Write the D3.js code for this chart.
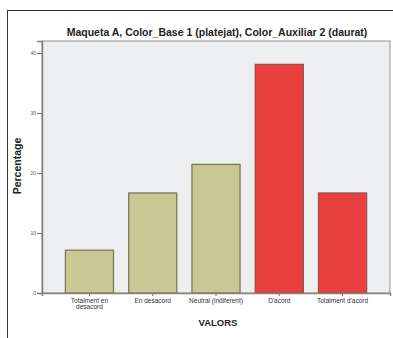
<!DOCTYPE html>
<html><head><meta charset="utf-8">
<script src="https://cdn.jsdelivr.net/npm/d3@7"></script>
<style>body{margin:0;background:#fff;}svg{display:block;font-family:"Liberation Sans",Arial,sans-serif;}</style>
</head><body>
<svg id="c" width="393" height="338"></svg>
<script>
const categories = ["Totalment en desacord", "En desacord", "Neutral (indiferent)", "D'acord", "Totalment d'acord"];
const categoryLines = [["Totalment en", "desacord"], ["En desacord"], ["Neutral (indiferent)"], ["D'acord"], ["Totalment d'acord"]];
const percentages = [7.14, 16.67, 21.43, 38.10, 16.67];
const barGroup = ["base", "base", "base", "aux", "aux"];
const yTicks = [0, 10, 20, 30, 40];
const title = "Maqueta A, Color_Base 1 (platejat), Color_Auxiliar 2 (daurat)";
const yTitle = "Percentage";
const xTitle = "VALORS";

const svg = d3.select("#c");
const m = {l: 42, t: 41, r: 390, b: 293};

// outer frame
svg.append("rect").attr("x", 7.5).attr("y", 10.5).attr("width", 400).attr("height", 340)
  .attr("fill", "none").attr("stroke", "#333").attr("stroke-width", 1);

// plot background
svg.append("rect").attr("x", m.l).attr("y", m.t).attr("width", m.r - m.l).attr("height", m.b - m.t)
  .attr("fill", "#eceef0").attr("stroke", "#a8a4a0").attr("stroke-width", 1.2);

const x = d3.scaleBand().domain(categories).range([m.l, m.r]).paddingInner(0.24).paddingOuter(0.37);
const y = d3.scaleLinear().domain([0, 42]).range([m.b, m.t]);
const color = d3.scaleOrdinal().domain(["base", "aux"]).range(["#cbc792", "#e8403f"]);
const strokeC = d3.scaleOrdinal().domain(["base", "aux"]).range(["#7d7a5c", "#a05048"]);

svg.append("g").selectAll("rect").data(categories).join("rect")
  .attr("x", d => x(d)).attr("width", x.bandwidth())
  .attr("y", (d, i) => y(percentages[i])).attr("height", (d, i) => y(0) - y(percentages[i]))
  .attr("fill", (d, i) => color(barGroup[i]))
  .attr("stroke", (d, i) => strokeC(barGroup[i])).attr("stroke-width", 1.3);

// axes
const yAxis = svg.append("g").attr("transform", `translate(${m.l},0)`)
  .call(d3.axisLeft(y).tickValues(yTicks).tickSize(5).tickPadding(1));
yAxis.select(".domain").attr("stroke", "#8a7f78").attr("stroke-width", 1.5);
yAxis.selectAll(".tick line").attr("stroke", "#7a706a");
yAxis.selectAll(".tick text").attr("font-size", 5).attr("fill", "#555");

const xAxis = svg.append("g").attr("transform", `translate(0,${m.b})`)
  .call(d3.axisBottom(x).tickSize(3).tickFormat(""));
xAxis.select(".domain").attr("stroke", "#8a7f78").attr("stroke-width", 1.5);
xAxis.selectAll(".tick line").attr("stroke", "#7a706a");

svg.append("g").selectAll("text").data(categories).join("text")
  .attr("x", d => x(d) + x.bandwidth() / 2).attr("y", 303)
  .attr("text-anchor", "middle").attr("font-size", 6.5).attr("fill", "#333")
  .each(function(d, i) {
    const t = d3.select(this);
    categoryLines[i].forEach((ln, k) => {
      t.append("tspan").attr("x", x(d) + x.bandwidth() / 2).attr("dy", k === 0 ? 0 : 5.5).text(ln);
    });
  });

svg.append("text").attr("x", 217).attr("y", 36).attr("text-anchor", "middle")
  .attr("font-size", 10.5).attr("font-weight", "bold").attr("fill", "#222").text(title);

svg.append("text").attr("transform", "translate(21,166) rotate(-90)").attr("text-anchor", "middle")
  .attr("font-size", 10.5).attr("font-weight", "bold").attr("fill", "#222").text(yTitle);

svg.append("text").attr("x", 218).attr("y", 326).attr("text-anchor", "middle")
  .attr("font-size", 9.5).attr("font-weight", "bold").attr("fill", "#222").text(xTitle);
</script>
</body></html>
